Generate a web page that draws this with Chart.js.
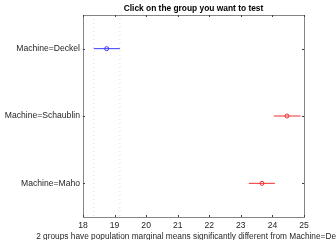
<!DOCTYPE html>
<html>
<head>
<meta charset="utf-8">
<script src="https://cdn.jsdelivr.net/npm/chart.js@4/dist/chart.umd.min.js"></script>
<style>
  html, body { margin: 0; padding: 0; background: #fff; }
  #wrap { width: 336px; height: 240px; }
</style>
</head>
<body>
<div id="wrap"><canvas id="grafico"></canvas></div>
<script>
// Datos
const grupos = ['Machine=Deckel', 'Machine=Schaublin', 'Machine=Maho'];
const medias = [18.75, 24.46, 23.67];
const inferior = [18.34, 24.04, 23.25];
const superior = [19.17, 24.89, 24.08];
const ticksX = [18, 19, 20, 21, 22, 23, 24, 25];
const titulo = 'Click on the group you want to test';
const etiquetaX = '2 groups have population marginal means significantly different from Machine=Deckel';

const grupoSel = 0;
const AZUL = '#3a3aff';
const ROJO = '#f03030';
const fuente = '"Liberation Sans", Arial, Helvetica, sans-serif';

const datasets = [];

// Líneas punteadas del intervalo del grupo seleccionado
[inferior[grupoSel], superior[grupoSel]].forEach(v => {
    datasets.push({
        type: 'line',
        data: [{ x: v, y: 0.5 }, { x: v, y: grupos.length + 0.5 }],
        borderColor: '#dcdcdc',
        borderWidth: 1,
        borderDash: [1, 3],
        pointRadius: 0,
        fill: false
    });
});

// Intervalos y medias
grupos.forEach((g, i) => {
    const color = i === grupoSel ? AZUL : ROJO;
    datasets.push({
        type: 'line',
        data: [{ x: inferior[i], y: i + 1 }, { x: superior[i], y: i + 1 }],
        borderColor: color,
        borderWidth: 1,
        pointRadius: 0,
        fill: false
    });
    datasets.push({
        type: 'scatter',
        data: [{ x: medias[i], y: i + 1 }],
        borderColor: color,
        backgroundColor: 'rgba(0,0,0,0)',
        borderWidth: 1,
        pointRadius: 2,
        pointStyle: 'circle'
    });
});

// Caja estilo MATLAB, marcas internas, título y etiqueta X
const cajaMatlab = {
    id: 'cajaMatlab',
    afterDraw(chart) {
        const { ctx, chartArea: a, scales } = chart;
        ctx.save();
        ctx.strokeStyle = '#858585';
        ctx.lineWidth = 1;
        ctx.strokeRect(Math.round(a.left) + 0.5, Math.round(a.top) + 0.5,
            Math.round(a.right - a.left), Math.round(a.bottom - a.top));
        ctx.strokeStyle = '#404040';
        ctx.beginPath();
        ticksX.forEach(t => {
            const px = Math.round(scales.x.getPixelForValue(t)) + 0.5;
            ctx.moveTo(px, a.bottom); ctx.lineTo(px, a.bottom - 2);
            ctx.moveTo(px, a.top); ctx.lineTo(px, a.top + 2);
        });
        grupos.forEach((g, i) => {
            const py = Math.round(scales.y.getPixelForValue(i + 1)) + 0.5;
            ctx.moveTo(a.left, py); ctx.lineTo(a.left + 2, py);
            ctx.moveTo(a.right, py); ctx.lineTo(a.right - 2, py);
        });
        ctx.stroke();

        const cx = (a.left + a.right) / 2;
        ctx.textAlign = 'center';
        ctx.textBaseline = 'middle';
        ctx.fillStyle = '#000';
        ctx.font = 'bold 8.4px ' + fuente;
        ctx.fillText(titulo, cx, 9);
        ctx.fillStyle = '#262626';
        ctx.font = '8.3px ' + fuente;
        ctx.fillText(etiquetaX, cx, 236.5);
        ctx.restore();
    }
};

new Chart(document.getElementById('grafico'), {
    data: { datasets },
    options: {
        responsive: true,
        maintainAspectRatio: false,
        animation: false,
        layout: { padding: { top: 15, right: 32, left: 0, bottom: 0 } },
        plugins: {
            legend: { display: false },
            tooltip: { enabled: false }
        },
        scales: {
            x: {
                type: 'linear',
                min: 18,
                max: 25,
                grid: { display: false, drawTicks: false },
                border: { display: false },
                afterBuildTicks: s => { s.ticks = ticksX.map(v => ({ value: v })); },
                afterFit: s => { s.height = 23; },
                ticks: {
                    padding: 3,
                    color: '#262626',
                    font: { family: fuente, size: 8.6 },
                    maxRotation: 0
                }
            },
            y: {
                type: 'linear',
                min: 0.5,
                max: grupos.length + 0.5,
                reverse: true,
                grid: { display: false, drawTicks: false },
                border: { display: false },
                afterBuildTicks: s => { s.ticks = grupos.map((g, i) => ({ value: i + 1 })); },
                afterFit: s => { s.width = 83; },
                ticks: {
                    padding: 3,
                    color: '#262626',
                    font: { family: fuente, size: 8.6 },
                    callback: v => grupos[v - 1] || ''
                }
            }
        }
    },
    plugins: [cajaMatlab]
});
</script>
</body>
</html>
